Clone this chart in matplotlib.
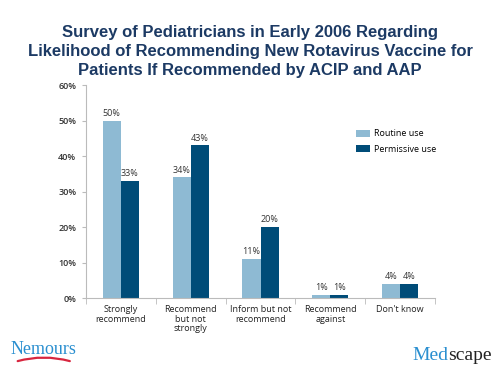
import numpy as np
import matplotlib.pyplot as plt
from matplotlib.patches import FancyArrowPatch

# data
categories = ["Strongly\nrecommend", "Recommend\nbut not\nstrongly", "Inform but not\nrecommend",
              "Recommend\nagainst", "Don't know"]
routine = [50, 34, 11, 1, 4]
permissive = [33, 43, 20, 1, 4]
series_names = ["Routine use", "Permissive use"]
yticks = [0, 10, 20, 30, 40, 50, 60]

c_light = "#8EBAD3"
c_dark = "#004C78"
gray = "#333333"

plt.rcParams['font.family'] = ['Open Sans', 'DejaVu Sans']

fig = plt.figure(figsize=(5, 3.75), dpi=100)
fig.patch.set_facecolor("white")
ax = fig.add_axes([0.172, 0.205, 0.698, 0.568])

x = np.arange(len(categories))
w = 0.26
b1 = ax.bar(x - w / 2, routine, w, color=c_light, label=series_names[0])
b2 = ax.bar(x + w / 2, permissive, w, color=c_dark, label=series_names[1])

for bars, vals in ((b1, routine), (b2, permissive)):
    for r, v in zip(bars, vals):
        ax.text(r.get_x() + r.get_width() / 2, v + 0.8, f"{v}%", ha="center", va="bottom",
                fontsize=6.5, color=gray)

ax.set_xlim(-0.5, len(categories) - 0.5)
ax.set_ylim(0, 60)
ax.set_yticks(yticks)
ax.set_yticklabels([f"{t}%" for t in yticks], fontsize=6.5, color=gray, fontweight="semibold")
ax.set_xticks(x)
ax.set_xticklabels(categories, fontsize=6.5, color="#222222", linespacing=1.1)
ax.tick_params(axis="x", length=0, pad=5)
ax.set_xticks(np.arange(len(categories) + 1) - 0.5, minor=True)
ax.tick_params(axis="x", which="minor", length=4, color="#bbbbbb", direction="out")
ax.tick_params(axis="y", length=3, color="#bbbbbb", pad=4)

for s in ("top", "right"):
    ax.spines[s].set_visible(False)
for s in ("left", "bottom"):
    ax.spines[s].set_color("#bbbbbb")
    ax.spines[s].set_linewidth(0.8)

ax.legend(loc="upper left", bbox_to_anchor=(0.75, 0.83), frameon=False, fontsize=6.5,
          handlelength=1.6, handleheight=0.9, labelspacing=0.7, handletextpad=0.4)

fig.text(0.5, 0.862, "Survey of Pediatricians in Early 2006 Regarding\n"
         "Likelihood of Recommending New Rotavirus Vaccine for\n"
         "Patients If Recommended by ACIP and AAP",
         ha="center", va="center", fontsize=12, fontweight="bold", color="#1C3A64",
         family=["Liberation Sans", "DejaVu Sans"], linespacing=1.35)

# logos as text
fig.text(0.022, 0.068, "Nemours", fontsize=13, color="#2A8FD0",
         family=["Liberation Serif", "DejaVu Serif"], va="center")
fig.add_artist(FancyArrowPatch((0.03, 0.035), (0.145, 0.035), transform=fig.transFigure,
                               connectionstyle="arc3,rad=-0.15", arrowstyle="-",
                               color="#D8263F", lw=1.6))
t_med = fig.text(0.824, 0.052, "Med", fontsize=14, color="#2A8FD0",
                 family=["Liberation Serif", "DejaVu Serif"], va="center")
fig.canvas.draw()
bb = t_med.get_window_extent().transformed(fig.transFigure.inverted())
fig.text(bb.x1, 0.052, "scape", fontsize=14, color="#222222",
         family=["Liberation Serif", "DejaVu Serif"], va="center")

fig.savefig("out.png", dpi=100)
